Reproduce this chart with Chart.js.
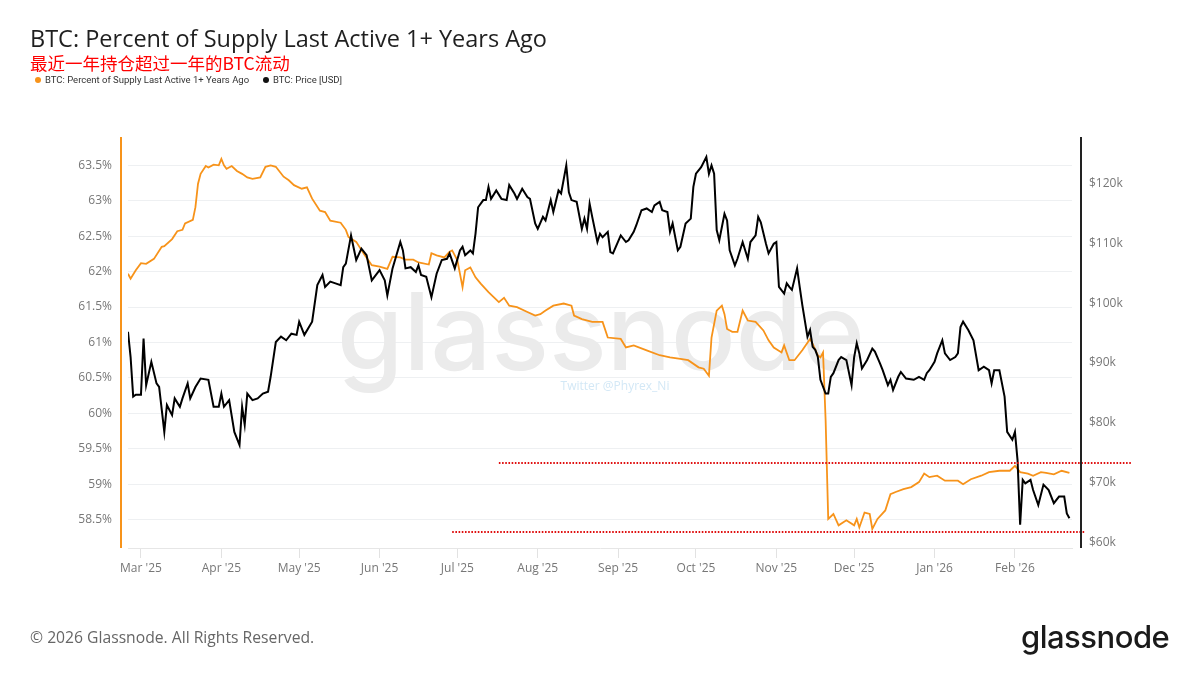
<!DOCTYPE html>
<html>
<head>
<meta charset="utf-8">
<script src="https://cdn.jsdelivr.net/npm/chart.js@4.4.1/dist/chart.umd.min.js"></script>
<style>
  html, body { margin: 0; padding: 0; background: #fff; }
  #wrap { position: relative; width: 1200px; height: 675px; overflow: hidden; font-family: 'Open Sans', sans-serif; }
  #chart-box { position: absolute; left: 0; top: 0; width: 1200px; height: 675px; }
  .title { position: absolute; left: 30px; top: 27px; font-size: 23.5px; line-height: 1; color: #1f1f1f; white-space: nowrap; }
  .subtitle { position: absolute; left: 30px; top: 54px; font-size: 17.5px; line-height: 1; color: #f00; white-space: nowrap;
    font-family: 'Noto Sans CJK SC', sans-serif; }
  .legend-item { position: absolute; top: 74px; font-family: Roboto, sans-serif; font-size: 9.5px; line-height: 12px; color: #333; white-space: nowrap; }
  .legend-item i { display: inline-block; width: 6px; height: 6px; border-radius: 50%; margin-right: 4px; vertical-align: 0px; }
  .copy { position: absolute; left: 30px; top: 628px; font-size: 15.7px; line-height: 1.2; color: #666; white-space: nowrap; }
  .logo { position: absolute; left: 1021px; top: 618px; font-family: Inter, sans-serif; font-size: 31px; font-weight: 500; color: #1a1a1a; letter-spacing: -0.5px; }
</style>
</head>
<body>
<div id="wrap">
  <div id="chart-box"><canvas id="chart"></canvas></div>
  <div class="title">BTC: Percent of Supply Last Active 1+ Years Ago</div>
  <div class="subtitle">最近一年持仓超过一年的BTC流动</div>
  <div class="legend-item" style="left:35px"><i style="background:#f7931a"></i>BTC: Percent of Supply Last Active 1+ Years Ago</div>
  <div class="legend-item" style="left:263px"><i style="background:#111"></i>BTC: Price [USD]</div>
  <div class="copy">© 2026 Glassnode. All Rights Reserved.</div>
  <div class="logo">glassnode</div>
</div>
<script>
// days counted from 2025-02-22
const startDate = Date.UTC(2025, 1, 22)

const monthStarts = ['2025-03-01', '2025-04-01', '2025-05-01', '2025-06-01', '2025-07-01', '2025-08-01',
  '2025-09-01', '2025-10-01', '2025-11-01', '2025-12-01', '2026-01-01', '2026-02-01']
const monthLabels = ["Mar '25", "Apr '25", "May '25", "Jun '25", "Jul '25", "Aug '25",
  "Sep '25", "Oct '25", "Nov '25", "Dec '25", "Jan '26", "Feb '26"]

const pctTicks = [58.5, 59, 59.5, 60, 60.5, 61, 61.5, 62, 62.5, 63, 63.5]
const priceTicks = [60000, 70000, 80000, 90000, 100000, 110000, 120000]

// Percent of supply last active 1+ years ago
const pctDays = [2, 3, 5, 7, 9, 12, 15, 16, 19, 21, 23, 24, 27, 28, 29, 30, 32, 33, 35, 37, 38, 39, 40, 42, 44,
  46, 48, 50, 53, 55, 57, 59, 62, 64, 66, 69, 71, 73, 76, 78, 80, 84, 86, 87, 90, 93, 96, 99, 102, 104, 107,
  109, 112, 114, 118, 119, 121, 124, 126, 127, 129, 131, 132, 134, 136, 138, 141, 145, 147, 149, 152, 156,
  159, 161, 163, 166, 170, 173, 174, 177, 181, 185, 187, 192, 194, 197, 202, 207, 211, 215, 218, 222, 224,
  226, 227, 229, 231, 232, 233, 235, 237, 239, 241, 244, 247, 249, 251, 254, 255, 257, 259, 262, 265, 266,
  268, 269, 270, 271, 272, 274, 276, 279, 282, 283, 284, 286, 288, 289, 291, 294, 296, 298, 301, 304, 307,
  309, 311, 314, 317, 322, 324, 327, 331, 334, 338, 342, 344, 346, 349, 351, 354, 356, 359, 362, 365]
const pctValues = [61.97, 61.90, 62.02, 62.12, 62.11, 62.18, 62.35, 62.36, 62.46, 62.57, 62.59, 62.68, 62.73,
  62.91, 63.24, 63.38, 63.49, 63.47, 63.51, 63.50, 63.59, 63.50, 63.45, 63.49, 63.42, 63.38, 63.33, 63.31,
  63.33, 63.48, 63.50, 63.48, 63.34, 63.29, 63.22, 63.17, 63.19, 63.03, 62.86, 62.84, 62.72, 62.69, 62.59,
  62.49, 62.42, 62.25, 62.09, 62.07, 62.04, 62.21, 62.20, 62.17, 62.17, 62.13, 62.10, 62.26, 62.23, 62.20,
  62.28, 62.30, 62.16, 61.78, 62.02, 62.06, 61.92, 61.83, 61.71, 61.57, 61.63, 61.52, 61.50, 61.43, 61.38,
  61.40, 61.45, 61.52, 61.55, 61.52, 61.38, 61.33, 61.29, 61.29, 61.07, 61.05, 60.93, 60.96, 60.89, 60.82,
  60.79, 60.77, 60.75, 60.65, 60.63, 60.53, 61.07, 61.45, 61.52, 61.40, 61.19, 61.15, 61.15, 61.45, 61.31,
  61.29, 61.17, 61.03, 60.93, 60.86, 60.96, 60.75, 60.75, 60.89, 61.05, 60.98, 60.82, 60.79, 60.86, 59.90,
  58.51, 58.58, 58.42, 58.49, 58.42, 58.51, 58.39, 58.60, 58.58, 58.37, 58.51, 58.63, 58.86, 58.89, 58.93,
  58.96, 59.03, 59.15, 59.10, 59.12, 59.05, 59.05, 59.00, 59.07, 59.12, 59.17, 59.19, 59.19, 59.26, 59.17,
  59.15, 59.12, 59.17, 59.16, 59.14, 59.19, 59.16]

// BTC price, USD
const priceDays = [2, 3, 4, 5, 7, 8, 9, 11, 13, 14, 16, 17, 19, 20, 22, 23, 25, 26, 28, 30, 33, 35, 37, 38, 39,
  41, 43, 45, 46, 47, 48, 50, 52, 54, 56, 57, 59, 61, 63, 65, 67, 68, 70, 73, 75, 77, 78, 80, 82, 84, 85, 86,
  88, 90, 92, 94, 96, 99, 101, 102, 104, 107, 108, 109, 111, 113, 114, 115, 117, 119, 121, 123, 125, 126,
  128, 130, 131, 132, 134, 135, 136, 137, 139, 140, 141, 142, 144, 146, 148, 149, 151, 152, 154, 156, 157,
  159, 160, 162, 163, 165, 166, 168, 169, 171, 172, 173, 175, 177, 178, 179, 180, 181, 183, 184, 185, 187,
  188, 189, 192, 194, 195, 197, 198, 200, 202, 204, 205, 207, 208, 210, 211, 212, 214, 215, 217, 219, 220,
  221, 223, 225, 226, 227, 228, 229, 230, 232, 233, 234, 236, 237, 239, 241, 242, 244, 245, 246, 248, 249,
  251, 252, 253, 255, 256, 257, 258, 260, 261, 262, 264, 265, 266, 267, 268, 269, 271, 272, 273, 274, 276,
  277, 279, 281, 282, 283, 284, 285, 287, 289, 290, 292, 293, 295, 296, 297, 299, 300, 302, 305, 307, 309,
  310, 311, 313, 314, 316, 317, 319, 321, 322, 323, 324, 326, 328, 330, 332, 334, 335, 336, 338, 340, 341,
  343, 344, 345, 346, 347, 348, 350, 351, 353, 355, 357, 359, 361, 363, 364, 365]
const priceValues = [95200, 91000, 84400, 84700, 84700, 94100, 86300, 90200, 86600, 86000, 78500, 83000, 81300,
  84100, 82700, 84100, 86600, 84100, 86000, 87400, 87200, 82700, 82700, 84900, 82700, 83800, 78500, 76300,
  82700, 79700, 84900, 83800, 84100, 84900, 85200, 87700, 93500, 94400, 93800, 94900, 94700, 96900, 94700,
  96900, 103000, 104700, 102700, 103600, 103300, 103000, 106000, 106600, 111300, 107200, 109100, 108000,
  103800, 105500, 103800, 101300, 105800, 110200, 108800, 105800, 106000, 105200, 106300, 104700, 104400,
  101000, 104900, 107200, 107400, 108300, 105800, 108800, 109400, 108000, 108800, 108300, 111600, 116000,
  117200, 117200, 119400, 117400, 118800, 117400, 117200, 119700, 118300, 117400, 119100, 117700, 117400,
  113300, 112400, 114400, 113800, 117200, 115200, 118800, 118300, 123000, 118500, 117200, 116900, 112400,
  114100, 112400, 116600, 114400, 110200, 111600, 111000, 111900, 108500, 108300, 111300, 110200, 110500,
  111900, 113000, 115500, 115800, 115200, 116300, 116900, 115500, 115200, 111900, 113300, 108800, 109400,
  113300, 114100, 119400, 121600, 122700, 124400, 121600, 123000, 121600, 112200, 110500, 114900, 113800,
  108800, 106300, 107400, 110200, 107400, 110200, 111300, 114400, 113500, 109900, 108300, 109900, 110200,
  102700, 101600, 103300, 102700, 102200, 105800, 102700, 99700, 94400, 95500, 92700, 92200, 91000, 87200,
  84900, 84900, 87700, 88300, 90500, 91000, 90500, 86300, 91000, 93300, 91600, 89100, 90500, 92400, 91900,
  89900, 88800, 86300, 87200, 85500, 87700, 88500, 87400, 87200, 87700, 87200, 88300, 88800, 90200, 91600,
  93800, 91600, 90500, 91000, 91600, 96000, 96900, 95500, 93800, 88800, 89400, 88800, 86600, 88800, 88800,
  84400, 78500, 77200, 78500, 73800, 63000, 70500, 69900, 70500, 68800, 66300, 69700, 68800, 66600, 67700,
  67700, 64900, 64100]

// red dotted guide lines drawn on the percent axis (from day .. to day)
const guideValues = [59.30, 58.32]
const guideFrom = [145, 127]
const guideTo = [389, 371]

const ORANGE = '#f7931a'
const dayOf = s => (Date.parse(s) - startDate) / 86400000
const monthDays = monthStarts.map(dayOf)

const frame = {
  id: 'frame',
  beforeDatasetsDraw(chart) {
    const { ctx, chartArea: a } = chart
    ctx.save()
    // watermark
    ctx.font = '500 115px Inter'
    const w = ctx.measureText('glassnode').width
    const size = 115 * 528 / w
    ctx.font = `500 ${size}px Inter`
    ctx.fillStyle = '#ebebeb'
    ctx.textAlign = 'center'
    ctx.textBaseline = 'alphabetic'
    ctx.fillText('glassnode', (a.left + a.right) / 2 + 1, 370)
    ctx.font = '12px "Open Sans"'
    ctx.fillStyle = '#d3e8f6'
    ctx.textBaseline = 'middle'
    ctx.fillText('Twitter @Phyrex_Ni', 615, 387)
    ctx.restore()
  },
  afterDatasetsDraw(chart) {
    const { ctx, chartArea: a, scales } = chart
    ctx.save()
    ctx.strokeStyle = '#e01010'
    ctx.lineWidth = 2
    ctx.setLineDash([1.6, 1.6])
    guideValues.forEach((v, i) => {
      const y = Math.round(scales.yPct.getPixelForValue(v))
      ctx.beginPath()
      ctx.moveTo(scales.x.getPixelForValue(guideFrom[i]), y)
      ctx.lineTo(scales.x.getPixelForValue(guideTo[i]), y)
      ctx.stroke()
    })
    ctx.setLineDash([])
    // axis lines
    ctx.lineWidth = 2
    ctx.strokeStyle = ORANGE
    ctx.beginPath()
    ctx.moveTo(a.left - 7, a.top)
    ctx.lineTo(a.left - 7, a.bottom)
    ctx.stroke()
    ctx.strokeStyle = '#222'
    ctx.beginPath()
    ctx.moveTo(a.right + 9, a.top)
    ctx.lineTo(a.right + 9, a.bottom)
    ctx.stroke()
    ctx.restore()
  }
}

const tickFont = { family: 'Open Sans', size: 12 }

new Chart(document.getElementById('chart'), {
  type: 'line',
  data: {
    datasets: [
      {
        label: 'BTC: Price [USD]',
        data: priceDays.map((d, i) => ({ x: d, y: priceValues[i] })),
        yAxisID: 'yPrice',
        borderColor: '#000',
        borderWidth: 2,
        pointRadius: 0,
        tension: 0
      },
      {
        label: 'BTC: Percent of Supply Last Active 1+ Years Ago',
        data: pctDays.map((d, i) => ({ x: d, y: pctValues[i] })),
        yAxisID: 'yPct',
        borderColor: ORANGE,
        borderWidth: 1.8,
        pointRadius: 0,
        tension: 0
      }
    ]
  },
  options: {
    responsive: true,
    maintainAspectRatio: false,
    animation: false,
    layout: { padding: { top: 137, left: 0, right: 0, bottom: 0 } },
    plugins: { legend: { display: false }, tooltip: { enabled: false } },
    scales: {
      x: {
        type: 'linear',
        min: 2,
        max: 366,
        afterFit: s => { s.height = 127 },
        afterBuildTicks: s => { s.ticks = monthDays.map(v => ({ value: v })) },
        grid: { drawOnChartArea: false, drawTicks: true, tickLength: 10, color: '#e2e2e2' },
        border: { display: true, color: '#e6e6e6' },
        ticks: {
          autoSkip: false, maxRotation: 0, padding: 3, color: '#777', font: tickFont,
          callback: (v, i) => monthLabels[i]
        }
      },
      yPct: {
        position: 'left',
        min: 58.1,
        max: 63.9,
        afterFit: s => { s.width = 128 },
        afterBuildTicks: s => { s.ticks = pctTicks.map(v => ({ value: v })) },
        grid: { color: '#eef0f2', drawTicks: false },
        border: { display: false },
        ticks: { padding: 16, color: '#777', font: tickFont, callback: v => v + '%' }
      },
      yPrice: {
        position: 'right',
        min: 59120,
        max: 127730,
        afterFit: s => { s.width = 128 },
        afterBuildTicks: s => { s.ticks = priceTicks.map(v => ({ value: v })) },
        grid: { display: false, drawTicks: false },
        border: { display: false },
        ticks: { padding: 17, color: '#777', font: tickFont, callback: v => '$' + v / 1000 + 'k' }
      }
    }
  },
  plugins: [frame]
})
</script>
</body>
</html>
